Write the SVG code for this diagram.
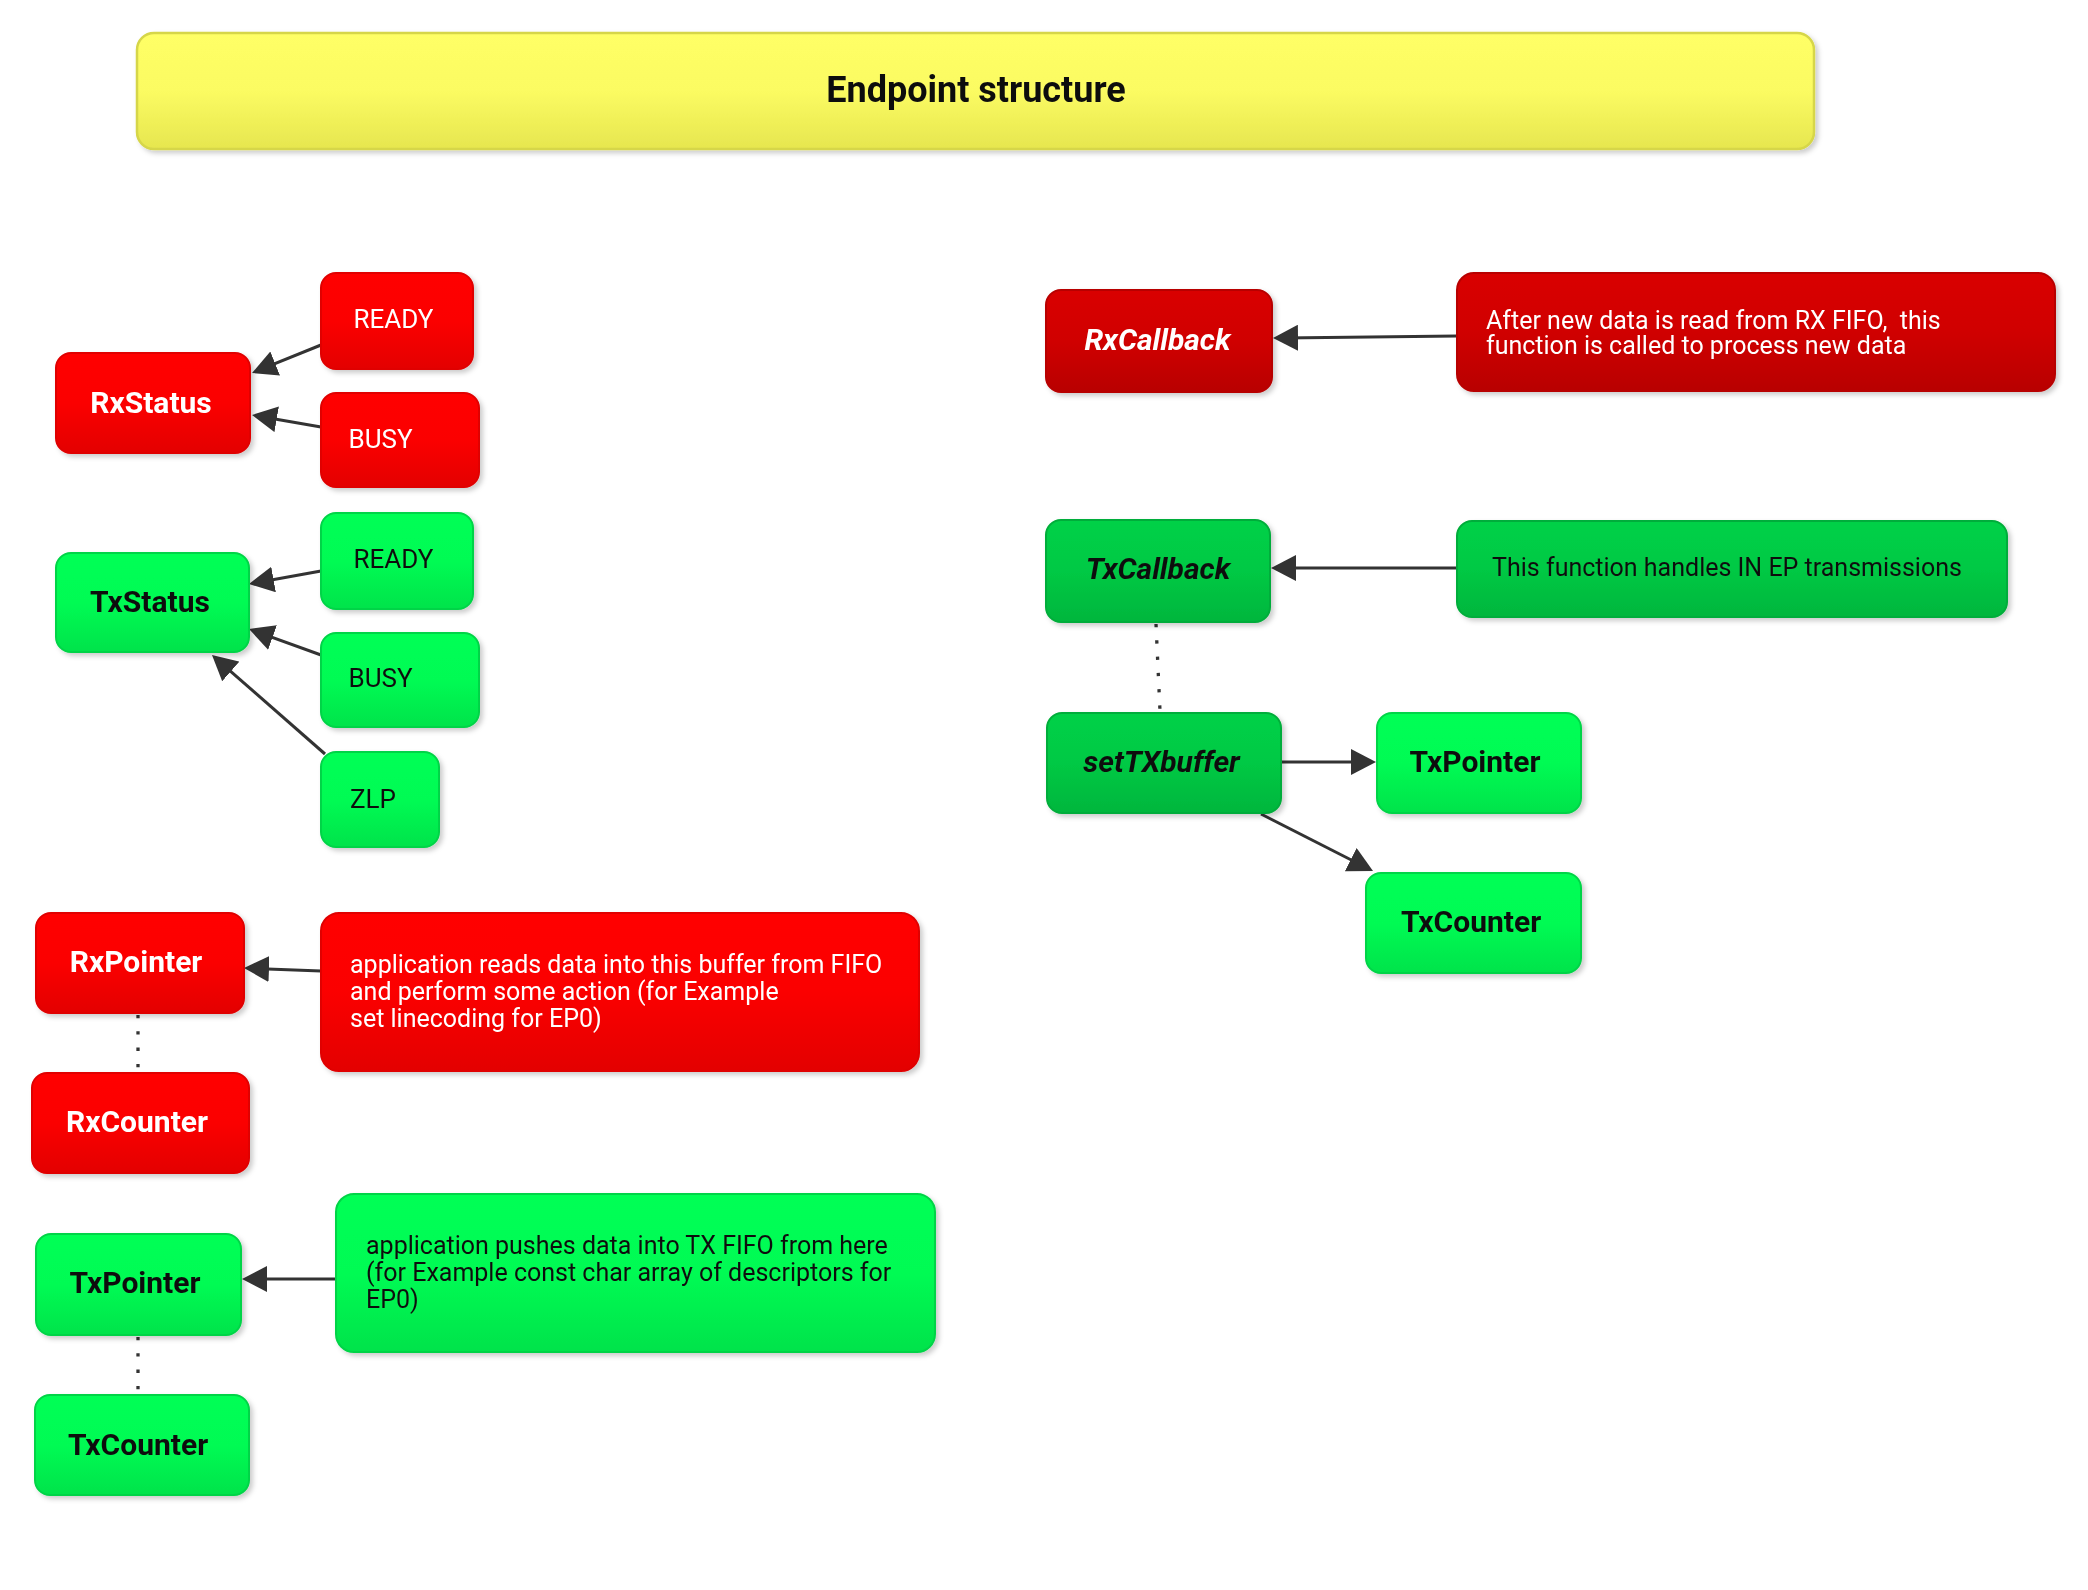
<svg xmlns="http://www.w3.org/2000/svg" width="2088" height="1590" viewBox="0 0 2088 1590">
<style>
.red{fill:url(#gRed);stroke:#e00000;stroke-width:2}
.dred{fill:url(#gDRed);stroke:#b80000;stroke-width:2}
.grn{fill:url(#gGrn);stroke:#00d447;stroke-width:2}
.dgrn{fill:url(#gDGrn);stroke:#00ad3a;stroke-width:2}
.ttl{fill:url(#gYel);stroke:#d6d648;stroke-width:2.5}
text{font-family:Roboto,"Liberation Sans",sans-serif}
.w{fill:#ffffff}
.k{fill:#111111}
.lbl{font-size:30px;font-weight:bold;text-anchor:middle}
.st{font-size:26px;text-anchor:middle}
.ital{font-size:30px;font-weight:bold;font-style:italic;text-anchor:middle}
.desc{font-size:25px}
.edge{stroke:#333333;stroke-width:3;fill:none;marker-end:url(#arr)}
.dot{stroke:#333333;stroke-width:3.3;fill:none;stroke-dasharray:3.3 13}
.node{filter:url(#sh)}
</style>
<defs>
<linearGradient id="gRed" x1="0" y1="0" x2="0" y2="1"><stop offset="0" stop-color="#ff0000"/><stop offset="0.5" stop-color="#fb0000"/><stop offset="1" stop-color="#e30000"/></linearGradient>
<linearGradient id="gDRed" x1="0" y1="0" x2="0" y2="1"><stop offset="0" stop-color="#d90000"/><stop offset="0.5" stop-color="#d00000"/><stop offset="1" stop-color="#b80000"/></linearGradient>
<linearGradient id="gGrn" x1="0" y1="0" x2="0" y2="1"><stop offset="0" stop-color="#00ff55"/><stop offset="0.5" stop-color="#00fb53"/><stop offset="1" stop-color="#00e34b"/></linearGradient>
<linearGradient id="gDGrn" x1="0" y1="0" x2="0" y2="1"><stop offset="0" stop-color="#00d147"/><stop offset="0.5" stop-color="#00c944"/><stop offset="1" stop-color="#00b63d"/></linearGradient>
<linearGradient id="gYel" x1="0" y1="0" x2="0" y2="1"><stop offset="0" stop-color="#ffff66"/><stop offset="0.5" stop-color="#fbfb62"/><stop offset="1" stop-color="#e6e64f"/></linearGradient>
<filter id="sh" x="-10%" y="-10%" width="125%" height="130%"><feDropShadow dx="3" dy="3" stdDeviation="2.5" flood-color="#000000" flood-opacity="0.2"/></filter>
<marker id="arr" markerUnits="userSpaceOnUse" markerWidth="26" markerHeight="26" refX="15" refY="13" orient="auto" viewBox="0 0 26 26"><path d="M0,0 L25,13 L0,26 Z" fill="#333333"/></marker>
</defs>

<g id="title" class="node"><rect class="ttl" x="137" y="33" width="1677" height="116" rx="17"/><text x="976" y="102" class="k" style="font-size:36px;font-weight:bold;text-anchor:middle">Endpoint structure</text></g>

<g id="connectors">
<line class="edge" x1="321" y1="345" x2="261.3" y2="369.2"/>
<line class="edge" x1="321" y1="427" x2="261.9" y2="416.7"/>
<line class="edge" x1="321" y1="571" x2="258.8" y2="582.2"/>
<line class="edge" x1="321" y1="655" x2="258.4" y2="632.4"/>
<line class="edge" x1="325" y1="754" x2="219.5" y2="661.6"/>
<line class="edge" x1="321" y1="971" x2="254" y2="968.4"/>
<line class="edge" x1="337" y1="1279" x2="252" y2="1279"/>
<line class="edge" x1="1457" y1="336" x2="1283" y2="337.9"/>
<line class="edge" x1="1457" y1="568" x2="1281" y2="568"/>
<line class="edge" x1="1281" y1="762" x2="1366" y2="762"/>
<line class="edge" x1="1261" y1="814" x2="1364.1" y2="866.5"/>
<line class="dot" x1="138" y1="1015" x2="138" y2="1072"/>
<line class="dot" x1="138" y1="1337" x2="138" y2="1394"/>
<line class="dot" x1="1156" y1="624" x2="1160" y2="711"/>
</g>

<g id="rx-ready" class="node"><rect class="red" x="321" y="273" width="152" height="96" rx="15"/><text x="393.5" y="328" class="st w">READY</text></g>
<g id="rxstatus" class="node"><rect class="red" x="56" y="353" width="194" height="100" rx="15"/><text x="151" y="413" class="lbl w">RxStatus</text></g>
<g id="rx-busy" class="node"><rect class="red" x="321" y="393" width="158" height="94" rx="15"/><text x="380.5" y="448" class="st w">BUSY</text></g>

<g id="tx-ready" class="node"><rect class="grn" x="321" y="513" width="152" height="96" rx="15"/><text x="393.5" y="568" class="st k">READY</text></g>
<g id="txstatus" class="node"><rect class="grn" x="56" y="553" width="193" height="99" rx="15"/><text x="150" y="612" class="lbl k">TxStatus</text></g>
<g id="tx-busy" class="node"><rect class="grn" x="321" y="633" width="158" height="94" rx="15"/><text x="380.5" y="687" class="st k">BUSY</text></g>
<g id="zlp" class="node"><rect class="grn" x="321" y="752" width="118" height="95" rx="15"/><text x="373" y="808" class="st k">ZLP</text></g>

<g id="rxpointer" class="node"><rect class="red" x="36" y="913" width="208" height="100" rx="15"/><text x="136" y="972" class="lbl w">RxPointer</text></g>
<g id="rxdesc" class="node"><rect class="red" x="321" y="913" width="598" height="158" rx="18"/><text class="desc w" x="350" y="973">application reads data into this buffer from FIFO</text><text class="desc w" x="350" y="1000">and perform some action (for Example</text><text class="desc w" x="350" y="1027">set linecoding for EP0)</text></g>
<g id="rxcounter" class="node"><rect class="red" x="32" y="1073" width="217" height="100" rx="15"/><text x="137" y="1132" class="lbl w">RxCounter</text></g>

<g id="txpointer-l" class="node"><rect class="grn" x="36" y="1234" width="205" height="101" rx="15"/><text x="135" y="1293" class="lbl k">TxPointer</text></g>
<g id="txdesc" class="node"><rect class="grn" x="336" y="1194" width="599" height="158" rx="18"/><text class="desc k" x="366" y="1254">application pushes data into TX FIFO from here</text><text class="desc k" x="366" y="1281">(for Example const char array of descriptors for</text><text class="desc k" x="366" y="1308">EP0)</text></g>
<g id="txcounter-l" class="node"><rect class="grn" x="35" y="1395" width="214" height="100" rx="15"/><text x="138" y="1455" class="lbl k">TxCounter</text></g>

<g id="rxcallback" class="node"><rect class="dred" x="1046" y="290" width="226" height="102" rx="15"/><text x="1157.5" y="350" class="ital w">RxCallback</text></g>
<g id="rxcbdesc" class="node"><rect class="dred" x="1457" y="273" width="598" height="118" rx="17"/><text class="desc w" x="1486" y="329" xml:space="preserve">After new data is read from RX FIFO,  this</text><text class="desc w" x="1486" y="354">function is called to process new data</text></g>

<g id="txcallback" class="node"><rect class="dgrn" x="1046" y="520" width="224" height="102" rx="15"/><text x="1158" y="579" class="ital k">TxCallback</text></g>
<g id="txcbdesc" class="node"><rect class="dgrn" x="1457" y="521" width="550" height="96" rx="15"/><text class="desc k" x="1727" y="576" style="text-anchor:middle">This function handles IN EP transmissions</text></g>

<g id="settxbuffer" class="node"><rect class="dgrn" x="1047" y="713" width="234" height="100" rx="15"/><text x="1161.5" y="772" class="ital k">setTXbuffer</text></g>
<g id="txpointer-r" class="node"><rect class="grn" x="1377" y="713" width="204" height="100" rx="15"/><text x="1475" y="772" class="lbl k">TxPointer</text></g>
<g id="txcounter-r" class="node"><rect class="grn" x="1366" y="873" width="215" height="100" rx="15"/><text x="1471" y="932" class="lbl k">TxCounter</text></g>
</svg>
